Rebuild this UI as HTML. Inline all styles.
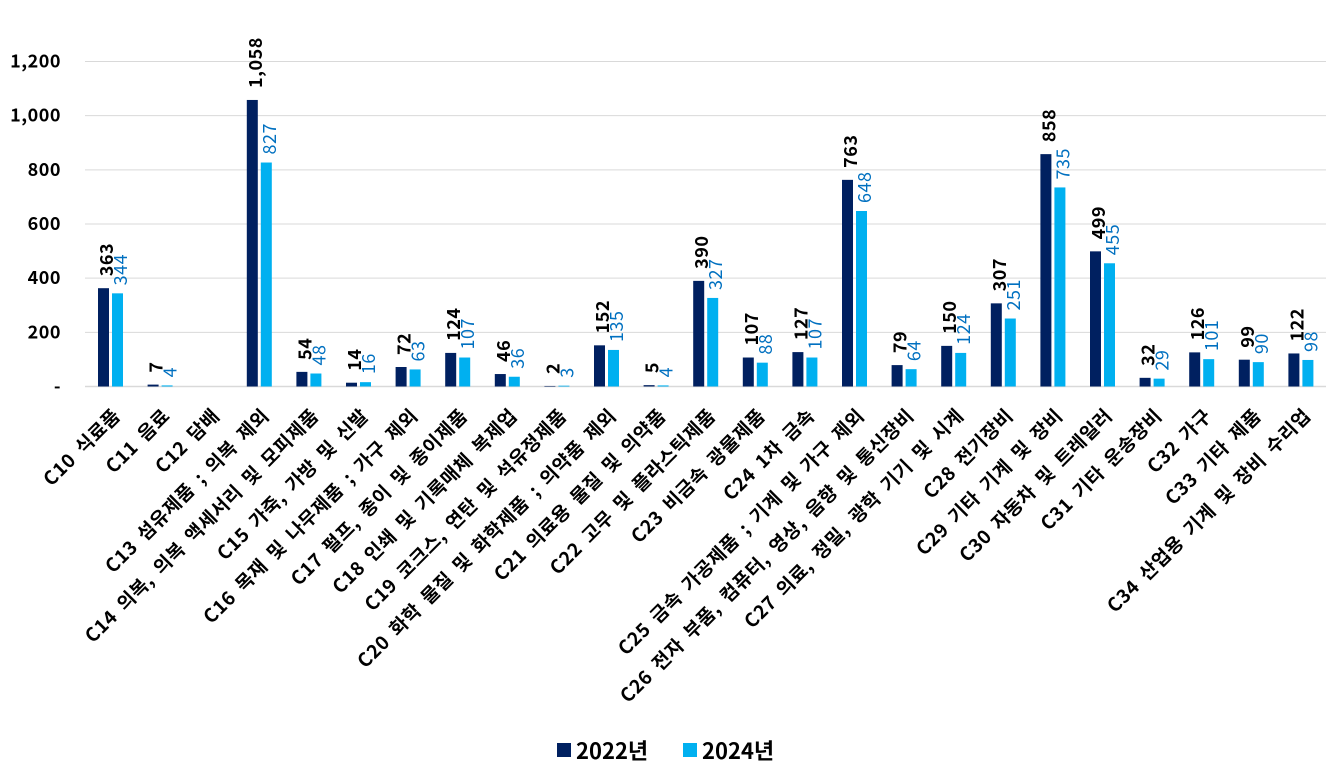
<!DOCTYPE html>
<html><head><meta charset="utf-8"><style>
html,body{margin:0;padding:0;background:#fff;}
svg{display:block;font-family:"Noto Sans CJK KR","Liberation Sans",sans-serif;}
</style></head><body>
<svg id="s" width="1342" height="776" viewBox="0 0 1342 776" xmlns="http://www.w3.org/2000/svg"></svg>
<script>
var s=document.getElementById('s');
var cats=["C10 식료품","C11 음료","C12 담배","C13 섬유제품 ; 의복 제외","C14 의복, 의복 액세서리 및 모피제품","C15 가죽, 가방 및 신발","C16 목재 및 나무제품 ; 가구 제외","C17 펄프, 종이 및 종이제품","C18 인쇄 및 기록매체 복제업","C19 코크스, 연탄 및 석유정제품","C20 화학 물질 및 화학제품 ; 의약품 제외","C21 의료용 물질 및 의약품","C22 고무 및 플라스틱제품","C23 비금속 광물제품","C24 1차 금속","C25 금속 가공제품 ; 기계 및 가구 제외","C26 전자 부품, 컴퓨터, 영상, 음향 및 통신장비","C27 의료, 정밀, 광학 기기 및 시계","C28 전기장비","C29 기타 기계 및 장비","C30 자동차 및 트레일러","C31 기타 운송장비","C32 가구","C33 기타 제품","C34 산업용 기계 및 장비 수리업"];
var a=[363,7,null,1058,54,14,72,124,46,2,152,5,390,107,127,763,79,150,307,858,499,32,126,99,122];
var b=[344,4,null,827,48,16,63,107,36,3,135,4,327,88,107,648,64,124,251,735,455,29,101,90,98];
var h='';
var y0=386.5,k=325/1200;
var ticks=[[0,'-'],[200,'200'],[400,'400'],[600,'600'],[800,'800'],[1000,'1,000'],[1200,'1,200']];
ticks.forEach(function(t){var y=y0-t[0]*k;
 if(t[0]>0)h+='<line x1="85" x2="1326" y1="'+y+'" y2="'+y+'" stroke="#d9d9d9" stroke-width="1"/>';
 h+='<text x="61" y="'+(y+6)+'" text-anchor="end" font-size="18" font-weight="bold" letter-spacing="0.5" fill="#000">'+t[1]+'</text>';});
h+='<line x1="85" x2="1326" y1="'+y0+'" y2="'+y0+'" stroke="#d9d9d9" stroke-width="1.5"/>';
function fmt(v){return v>=1000?Math.floor(v/1000)+','+String(v%1000).padStart(3,'0'):String(v);}
for(var i=0;i<25;i++){var c=110.5+i*49.6;
 if(a[i]!=null){var t=y0-a[i]*k;
  h+='<rect x="'+(c-12.5)+'" y="'+t+'" width="11" height="'+(y0-t)+'" fill="#002060"/>';
  h+='<text transform="translate('+(c+2.5)+','+(t-12)+') rotate(-90)" font-size="18" font-weight="bold" letter-spacing="0.5" fill="#000">'+fmt(a[i])+'</text>';}
 if(b[i]!=null){var t2=y0-b[i]*k;
  h+='<rect x="'+(c+1.5)+'" y="'+t2+'" width="11" height="'+(y0-t2)+'" fill="#00B0F0"/>';
  h+='<text transform="translate('+(c+16.5)+','+(t2-8)+') rotate(-90)" font-size="18" letter-spacing="0.5" fill="#0070C0">'+fmt(b[i])+'</text>';}
 h+='<text transform="translate('+(c+11)+',417) rotate(-45)" text-anchor="end" font-size="19" font-weight="bold" word-spacing="4" letter-spacing="0.5" fill="#000">'+cats[i]+'</text>';
}
h+='<rect x="557" y="743" width="14" height="14" fill="#002060"/><text x="576" y="759" font-size="22" font-weight="bold">2022년</text>';
h+='<rect x="683" y="743" width="14" height="14" fill="#00B0F0"/><text x="702" y="759" font-size="22" font-weight="bold">2024년</text>';
s.innerHTML=h;
</script>
</body></html>
